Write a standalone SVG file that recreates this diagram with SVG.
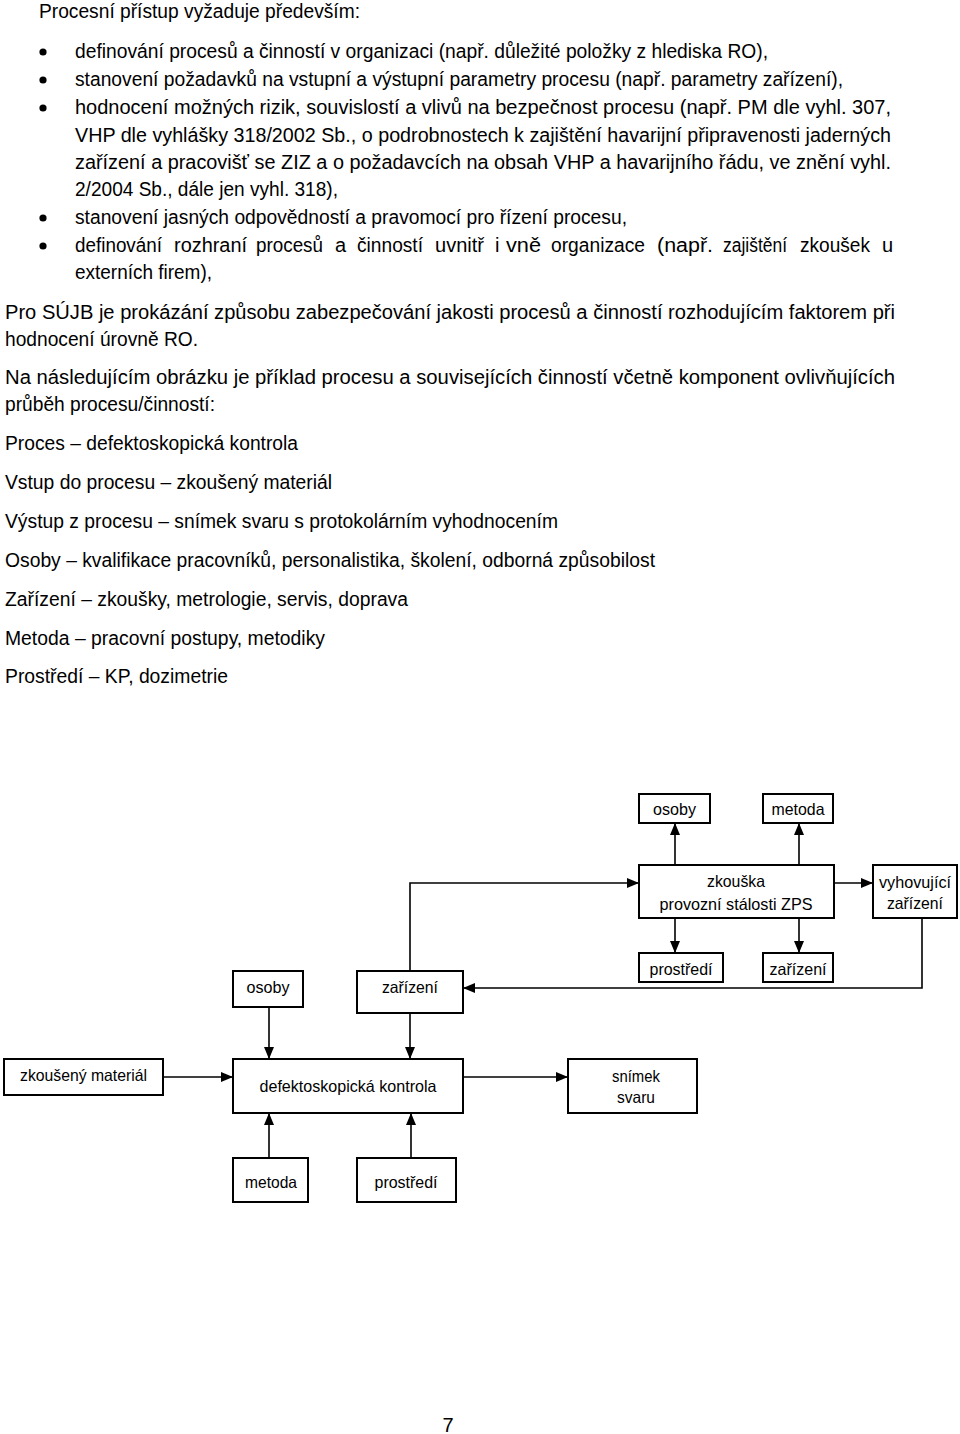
<svg xmlns="http://www.w3.org/2000/svg" width="960" height="1434" viewBox="0 0 960 1434">
<style>
.t{font-family:"Liberation Sans",Arial,sans-serif;font-size:20px;fill:#000}
.d{font-family:"Liberation Sans",Arial,sans-serif;font-size:16.5px;fill:#000;text-anchor:middle}
.box{fill:#fff;stroke:#000;stroke-width:2}
.c{fill:none;stroke:#000;stroke-width:1.6}
</style>
<defs>
<marker id="ah" markerUnits="userSpaceOnUse" markerWidth="12" markerHeight="10" refX="12" refY="5" orient="auto" viewBox="0 0 12 10">
<path d="M0,0 L12,5 L0,10 z" fill="#000"/>
</marker>
</defs>
<rect width="960" height="1434" fill="#fff"/>
<g id="text">
<text class="t" x="39" y="18" textLength="321" lengthAdjust="spacingAndGlyphs">Procesní přístup vyžaduje především:</text>
<circle cx="43" cy="52" r="3.6"/>
<circle cx="43" cy="80" r="3.6"/>
<circle cx="43" cy="108" r="3.6"/>
<circle cx="43" cy="218" r="3.6"/>
<circle cx="43" cy="246" r="3.6"/>
<text class="t" x="75" y="58" textLength="693" lengthAdjust="spacingAndGlyphs">definování procesů a činností v organizaci (např. důležité položky z hlediska RO),</text>
<text class="t" x="75" y="86" textLength="768" lengthAdjust="spacingAndGlyphs">stanovení požadavků na vstupní a výstupní parametry procesu (např. parametry zařízení),</text>
<text class="t" x="75" y="114" textLength="816" lengthAdjust="spacingAndGlyphs">hodnocení možných rizik, souvislostí a vlivů na bezpečnost procesu (např. PM dle vyhl. 307,</text>
<text class="t" x="75" y="142" textLength="816" lengthAdjust="spacingAndGlyphs">VHP dle vyhlášky 318/2002 Sb., o podrobnostech k zajištění havarijní připravenosti jaderných</text>
<text class="t" x="75" y="169" textLength="816" lengthAdjust="spacingAndGlyphs">zařízení a pracovišť se ZIZ a o požadavcích na obsah VHP a havarijního řádu, ve znění vyhl.</text>
<text class="t" x="75" y="196" textLength="263" lengthAdjust="spacingAndGlyphs">2/2004 Sb., dále jen vyhl. 318),</text>
<text class="t" x="75" y="224" textLength="552" lengthAdjust="spacingAndGlyphs">stanovení jasných odpovědností a pravomocí pro řízení procesu,</text>
<text class="t" y="252"><tspan x="75" textLength="87" lengthAdjust="spacingAndGlyphs">definování</tspan><tspan x="174" textLength="73" lengthAdjust="spacingAndGlyphs">rozhraní</tspan><tspan x="256" textLength="67" lengthAdjust="spacingAndGlyphs">procesů</tspan><tspan x="335">a</tspan><tspan x="357" textLength="66" lengthAdjust="spacingAndGlyphs">činností</tspan><tspan x="435" textLength="49" lengthAdjust="spacingAndGlyphs">uvnitř</tspan><tspan x="495">i</tspan><tspan x="506" textLength="35" lengthAdjust="spacingAndGlyphs">vně</tspan><tspan x="551" textLength="94" lengthAdjust="spacingAndGlyphs">organizace</tspan><tspan x="657" textLength="56" lengthAdjust="spacingAndGlyphs">(např.</tspan><tspan x="723" textLength="64" lengthAdjust="spacingAndGlyphs">zajištění</tspan><tspan x="800" textLength="70" lengthAdjust="spacingAndGlyphs">zkoušek</tspan><tspan x="882">u</tspan></text>
<text class="t" x="75" y="279" textLength="137" lengthAdjust="spacingAndGlyphs">externích firem),</text>
<text class="t" x="5" y="319" textLength="890" lengthAdjust="spacingAndGlyphs">Pro SÚJB je prokázání způsobu zabezpečování jakosti procesů a činností rozhodujícím faktorem při</text>
<text class="t" x="5" y="346" textLength="193" lengthAdjust="spacingAndGlyphs">hodnocení úrovně RO.</text>
<text class="t" x="5" y="384" textLength="890" lengthAdjust="spacingAndGlyphs">Na následujícím obrázku je příklad procesu a souvisejících činností včetně komponent ovlivňujících</text>
<text class="t" x="5" y="411" textLength="210" lengthAdjust="spacingAndGlyphs">průběh procesu/činností:</text>
<text class="t" x="5" y="450" textLength="293" lengthAdjust="spacingAndGlyphs">Proces – defektoskopická kontrola</text>
<text class="t" x="5" y="489" textLength="327" lengthAdjust="spacingAndGlyphs">Vstup do procesu – zkoušený materiál</text>
<text class="t" x="5" y="528" textLength="553" lengthAdjust="spacingAndGlyphs">Výstup z procesu – snímek svaru s protokolárním vyhodnocením</text>
<text class="t" x="5" y="567" textLength="650" lengthAdjust="spacingAndGlyphs">Osoby – kvalifikace pracovníků, personalistika, školení, odborná způsobilost</text>
<text class="t" x="5" y="606" textLength="403" lengthAdjust="spacingAndGlyphs">Zařízení – zkoušky, metrologie, servis, doprava</text>
<text class="t" x="5" y="645" textLength="320" lengthAdjust="spacingAndGlyphs">Metoda – pracovní postupy, metodiky</text>
<text class="t" x="5" y="683" textLength="223" lengthAdjust="spacingAndGlyphs">Prostředí – KP, dozimetrie</text>
<text class="t" x="448" y="1432" text-anchor="middle">7</text>
</g>
<g id="connectors">
<line class="c" x1="675" y1="865" x2="675" y2="823" marker-end="url(#ah)"/>
<line class="c" x1="799" y1="865" x2="799" y2="823" marker-end="url(#ah)"/>
<line class="c" x1="675" y1="918" x2="675" y2="953" marker-end="url(#ah)"/>
<line class="c" x1="799" y1="918" x2="799" y2="953" marker-end="url(#ah)"/>
<line class="c" x1="834" y1="883" x2="873" y2="883" marker-end="url(#ah)"/>
<polyline class="c" points="922,918 922,988 463,988" marker-end="url(#ah)"/>
<polyline class="c" points="410,971 410,883 639,883" marker-end="url(#ah)"/>
<line class="c" x1="269" y1="1007" x2="269" y2="1059" marker-end="url(#ah)"/>
<line class="c" x1="410" y1="1013" x2="410" y2="1059" marker-end="url(#ah)"/>
<line class="c" x1="163" y1="1077" x2="233" y2="1077" marker-end="url(#ah)"/>
<line class="c" x1="463" y1="1077" x2="568" y2="1077" marker-end="url(#ah)"/>
<line class="c" x1="269" y1="1158" x2="269" y2="1113" marker-end="url(#ah)"/>
<line class="c" x1="411" y1="1158" x2="411" y2="1113" marker-end="url(#ah)"/>
</g>
<g id="n-osoby1"><rect class="box" x="639" y="794" width="71" height="29"/><text class="d" x="674.5" y="815" textLength="43" lengthAdjust="spacingAndGlyphs">osoby</text></g>
<g id="n-metoda1"><rect class="box" x="763" y="794" width="70" height="29"/><text class="d" x="798" y="815" textLength="53" lengthAdjust="spacingAndGlyphs">metoda</text></g>
<g id="n-zkouska"><rect class="box" x="639" y="865" width="195" height="53"/><text class="d" x="736" y="887" textLength="58" lengthAdjust="spacingAndGlyphs">zkouška</text><text class="d" x="736" y="910" textLength="153" lengthAdjust="spacingAndGlyphs">provozní stálosti ZPS</text></g>
<g id="n-vyhovujici"><rect class="box" x="873" y="865" width="84" height="53"/><text class="d" x="915" y="888" textLength="72" lengthAdjust="spacingAndGlyphs">vyhovující</text><text class="d" x="915" y="909" textLength="56" lengthAdjust="spacingAndGlyphs">zařízení</text></g>
<g id="n-prostredi1"><rect class="box" x="639" y="953" width="84" height="29"/><text class="d" x="681" y="975" textLength="63" lengthAdjust="spacingAndGlyphs">prostředí</text></g>
<g id="n-zarizeni1"><rect class="box" x="763" y="953" width="70" height="29"/><text class="d" x="798" y="975" textLength="57" lengthAdjust="spacingAndGlyphs">zařízení</text></g>
<g id="n-osoby2"><rect class="box" x="233" y="971" width="70" height="36"/><text class="d" x="268" y="993" textLength="43" lengthAdjust="spacingAndGlyphs">osoby</text></g>
<g id="n-zarizeni2"><rect class="box" x="357" y="971" width="106" height="42"/><text class="d" x="410" y="993" textLength="56" lengthAdjust="spacingAndGlyphs">zařízení</text></g>
<g id="n-material"><rect class="box" x="4" y="1059" width="159" height="36"/><text class="d" x="83.5" y="1081" textLength="127" lengthAdjust="spacingAndGlyphs">zkoušený materiál</text></g>
<g id="n-defekto"><rect class="box" x="233" y="1059" width="230" height="54"/><text class="d" x="348" y="1092" textLength="177" lengthAdjust="spacingAndGlyphs">defektoskopická kontrola</text></g>
<g id="n-snimek"><rect class="box" x="568" y="1059" width="129" height="54"/><text class="d" x="636" y="1082" textLength="48" lengthAdjust="spacingAndGlyphs">snímek</text><text class="d" x="636" y="1103" textLength="38" lengthAdjust="spacingAndGlyphs">svaru</text></g>
<g id="n-metoda2"><rect class="box" x="233" y="1158" width="75" height="44"/><text class="d" x="271" y="1188" textLength="52" lengthAdjust="spacingAndGlyphs">metoda</text></g>
<g id="n-prostredi2"><rect class="box" x="357" y="1158" width="99" height="44"/><text class="d" x="406" y="1188" textLength="63" lengthAdjust="spacingAndGlyphs">prostředí</text></g>
</svg>
